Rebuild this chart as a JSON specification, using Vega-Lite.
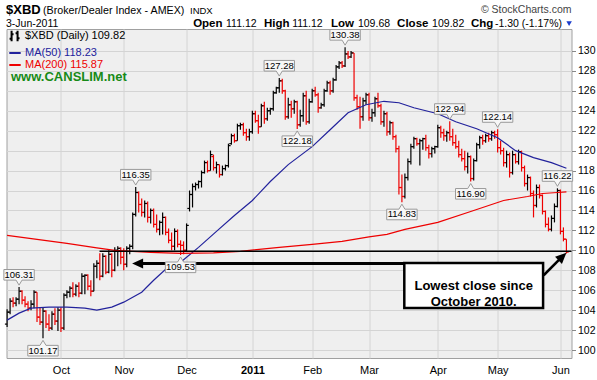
{
  "$schema": "https://vega.github.io/schema/vega-lite/v6.json",
  "width": 565,
  "height": 329,
  "autosize": {"type": "none"},
  "padding": {"left": 6.5, "top": 29, "right": 25.5, "bottom": 22},
  "background": "#ffffff",
  "config": {
    "font": "Liberation Sans",
    "view": {"fill": "#efefef", "stroke": "#a0a0a0", "strokeWidth": 1},
    "axis": {"labelFont": "Liberation Sans", "labelFontSize": 11, "labelColor": "#000000", "gridColor": "#d4d4d4", "gridWidth": 1, "domain": false, "title": null}
  },
  "encoding": {
    "x": {"type": "quantitative",
      "scale": {"domain": [-0.2, 188.7], "nice": false, "zero": false},
      "axis": {"values": [18, 39, 60, 82, 102, 121, 144, 164, 185],
        "labelExpr": "['Oct','Nov','Dec','2011','Feb','Mar','Apr','May','Jun'][indexof([18,39,60,82,102,121,144,164,185], datum.value)]",
        "labelFontWeight": {"condition": {"test": "datum.value == 82", "value": "bold"}, "value": "normal"},
        "ticks": false, "labelPadding": 6, "grid": true, "labelFlush": false, "labelOverlap": false}},
    "y": {"type": "quantitative",
      "scale": {"domain": [99.2, 132.2], "nice": false, "zero": false},
      "axis": {"orient": "right", "values": [100,102,104,106,108,110,112,114,116,118,120,122,124,126,128,130],
        "tickSize": 4, "tickColor": "#888888", "labelPadding": 2, "grid": true, "labelOverlap": false, "labelFontSize": 10.5, "labelFlush": false}}
  },
  "datasets": {
    "bars": [
      {"i":0,"o":102.6,"h":104.1,"l":102.3,"c":103.8},{"i":1,"o":103.8,"h":105.2,"l":103.6,"c":104.9},{"i":2,"o":104.9,"h":105.3,"l":104.3,"c":104.7},{"i":3,"o":104.7,"h":105.3,"l":104.4,"c":105.1},{"i":4,"o":105.1,"h":106.31,"l":104.6,"c":105.9},
      {"i":5,"o":105.9,"h":106.0,"l":104.6,"c":105.0},{"i":6,"o":105.0,"h":105.4,"l":104.3,"c":104.6},{"i":7,"o":104.6,"h":104.9,"l":103.9,"c":104.2},{"i":8,"o":104.2,"h":105.0,"l":104.0,"c":104.6},{"i":9,"o":104.6,"h":106.0,"l":104.2,"c":105.8},
      {"i":10,"o":105.8,"h":105.8,"l":102.8,"c":103.3},{"i":11,"o":103.3,"h":104.3,"l":102.5,"c":102.8},{"i":12,"o":102.8,"h":104.3,"l":101.17,"c":103.9},{"i":13,"o":103.9,"h":104.0,"l":102.2,"c":102.6},{"i":14,"o":102.6,"h":103.6,"l":101.9,"c":102.2},
      {"i":15,"o":102.2,"h":103.9,"l":102.0,"c":103.6},{"i":16,"o":103.6,"h":104.2,"l":102.5,"c":102.9},{"i":17,"o":102.9,"h":104.3,"l":101.9,"c":104.0},{"i":18,"o":104.0,"h":104.3,"l":101.8,"c":102.2},{"i":19,"o":102.2,"h":105.7,"l":102.0,"c":105.5},
      {"i":20,"o":105.5,"h":106.0,"l":105.2,"c":105.8},{"i":21,"o":105.8,"h":106.4,"l":105.3,"c":106.2},{"i":22,"o":106.2,"h":106.8,"l":105.3,"c":105.6},{"i":23,"o":105.6,"h":106.6,"l":105.4,"c":106.4},{"i":24,"o":106.4,"h":106.8,"l":105.3,"c":105.7},
      {"i":25,"o":105.7,"h":107.7,"l":105.6,"c":107.4},{"i":26,"o":107.4,"h":107.6,"l":105.6,"c":107.5},{"i":27,"o":107.5,"h":107.6,"l":106.0,"c":106.4},{"i":28,"o":106.4,"h":107.0,"l":105.4,"c":105.9},{"i":29,"o":105.9,"h":108.7,"l":105.9,"c":108.4},
      {"i":30,"o":108.4,"h":109.0,"l":107.2,"c":108.7},{"i":31,"o":108.7,"h":109.7,"l":107.0,"c":107.4},{"i":32,"o":107.4,"h":109.7,"l":107.3,"c":109.4},{"i":33,"o":109.4,"h":109.5,"l":107.6,"c":107.8},{"i":34,"o":107.8,"h":110.0,"l":107.7,"c":109.6},
      {"i":35,"o":109.6,"h":109.7,"l":107.3,"c":108.0},{"i":36,"o":108.0,"h":110.3,"l":107.9,"c":110.0},{"i":37,"o":110.0,"h":110.4,"l":108.4,"c":110.2},{"i":38,"o":110.2,"h":110.3,"l":108.6,"c":109.3},{"i":39,"o":109.3,"h":110.2,"l":108.0,"c":108.6},
      {"i":40,"o":108.6,"h":110.4,"l":108.3,"c":110.2},{"i":41,"o":110.2,"h":110.6,"l":109.6,"c":110.4},{"i":42,"o":110.4,"h":113.8,"l":110.1,"c":113.6},{"i":43,"o":113.6,"h":116.35,"l":113.4,"c":115.8},{"i":44,"o":115.8,"h":115.9,"l":113.8,"c":114.6},
      {"i":45,"o":114.6,"h":115.2,"l":113.4,"c":113.8},{"i":46,"o":113.8,"h":115.0,"l":113.3,"c":114.7},{"i":47,"o":114.7,"h":114.9,"l":112.8,"c":113.3},{"i":48,"o":113.3,"h":114.2,"l":112.7,"c":114.0},{"i":49,"o":114.0,"h":114.2,"l":112.3,"c":112.6},
      {"i":50,"o":112.6,"h":113.6,"l":111.8,"c":112.1},{"i":51,"o":112.1,"h":113.0,"l":111.5,"c":112.8},{"i":52,"o":112.8,"h":113.8,"l":111.6,"c":113.3},{"i":53,"o":113.3,"h":113.4,"l":111.5,"c":111.8},{"i":54,"o":111.8,"h":112.2,"l":110.7,"c":111.0},
      {"i":55,"o":111.0,"h":111.8,"l":110.0,"c":110.4},{"i":56,"o":110.4,"h":112.2,"l":110.0,"c":111.9},{"i":57,"o":111.9,"h":112.1,"l":110.3,"c":110.6},{"i":58,"o":110.6,"h":111.0,"l":109.53,"c":110.5},{"i":59,"o":110.5,"h":110.9,"l":109.6,"c":110.0},
      {"i":60,"o":110.0,"h":112.7,"l":109.9,"c":112.5},{"i":61,"o":114.2,"h":116.0,"l":113.9,"c":115.6},{"i":62,"o":115.6,"h":116.7,"l":114.3,"c":116.4},{"i":63,"o":116.4,"h":116.8,"l":116.0,"c":116.6},{"i":64,"o":116.6,"h":117.0,"l":116.2,"c":116.9},
      {"i":65,"o":116.9,"h":118.0,"l":116.3,"c":117.8},{"i":66,"o":117.8,"h":119.0,"l":117.7,"c":118.8},{"i":67,"o":118.8,"h":119.0,"l":117.8,"c":118.0},{"i":68,"o":118.0,"h":120.0,"l":118.0,"c":119.6},{"i":69,"o":119.4,"h":119.6,"l":118.0,"c":118.3},
      {"i":70,"o":118.3,"h":118.9,"l":117.7,"c":118.6},{"i":71,"o":118.6,"h":118.6,"l":117.3,"c":117.6},{"i":72,"o":117.6,"h":118.5,"l":117.5,"c":118.2},{"i":73,"o":118.2,"h":118.6,"l":118.0,"c":118.5},{"i":74,"o":118.5,"h":120.7,"l":118.3,"c":120.5},
      {"i":75,"o":120.7,"h":121.7,"l":120.6,"c":121.5},{"i":76,"o":121.5,"h":121.7,"l":120.8,"c":121.0},{"i":77,"o":121.0,"h":122.7,"l":121.0,"c":122.5},{"i":78,"o":122.5,"h":122.8,"l":122.1,"c":122.6},{"i":79,"o":122.6,"h":122.8,"l":121.5,"c":121.8},
      {"i":80,"o":121.8,"h":122.2,"l":121.0,"c":121.4},{"i":81,"o":121.4,"h":122.2,"l":121.0,"c":121.9},{"i":82,"o":121.9,"h":124.0,"l":121.7,"c":123.7},{"i":83,"o":123.7,"h":124.0,"l":122.8,"c":123.0},{"i":84,"o":123.0,"h":123.6,"l":121.7,"c":122.4},
      {"i":85,"o":122.4,"h":124.7,"l":122.4,"c":124.5},{"i":86,"o":124.5,"h":124.9,"l":122.7,"c":123.2},{"i":87,"o":123.2,"h":124.3,"l":123.0,"c":124.0},{"i":88,"o":124.0,"h":124.3,"l":123.6,"c":124.2},{"i":89,"o":124.2,"h":126.0,"l":124.0,"c":125.8},
      {"i":90,"o":125.8,"h":126.4,"l":125.7,"c":126.3},{"i":91,"o":126.3,"h":127.28,"l":125.8,"c":127.0},{"i":92,"o":127.0,"h":127.2,"l":125.7,"c":126.0},{"i":93,"o":126.0,"h":126.1,"l":123.1,"c":123.4},{"i":94,"o":123.4,"h":125.3,"l":123.2,"c":124.6},
      {"i":95,"o":124.6,"h":125.0,"l":123.3,"c":124.2},{"i":96,"o":124.2,"h":125.1,"l":123.7,"c":124.9},{"i":97,"o":124.9,"h":125.0,"l":122.18,"c":122.6},{"i":98,"o":122.6,"h":124.1,"l":122.4,"c":123.5},{"i":99,"o":123.5,"h":125.8,"l":122.9,"c":125.5},
      {"i":100,"o":125.5,"h":126.0,"l":122.6,"c":122.9},{"i":101,"o":122.9,"h":125.2,"l":122.7,"c":124.9},{"i":102,"o":124.9,"h":126.2,"l":124.8,"c":126.0},{"i":103,"o":126.0,"h":126.4,"l":125.4,"c":125.6},{"i":104,"o":125.6,"h":125.8,"l":123.8,"c":124.3},
      {"i":105,"o":124.3,"h":124.8,"l":124.2,"c":124.6},{"i":106,"o":124.6,"h":126.2,"l":124.4,"c":126.0},{"i":107,"o":126.0,"h":127.0,"l":125.9,"c":126.8},{"i":108,"o":126.8,"h":127.0,"l":125.6,"c":126.0},{"i":109,"o":126.0,"h":127.3,"l":125.8,"c":127.1},
      {"i":110,"o":127.1,"h":128.6,"l":127.0,"c":128.4},{"i":111,"o":128.4,"h":129.0,"l":128.2,"c":128.8},{"i":112,"o":128.8,"h":129.0,"l":128.3,"c":128.5},{"i":113,"o":128.5,"h":130.38,"l":128.4,"c":129.7},{"i":114,"o":129.7,"h":130.0,"l":129.2,"c":129.4},
      {"i":115,"o":129.4,"h":130.0,"l":129.3,"c":129.8},{"i":116,"o":129.8,"h":129.8,"l":125.0,"c":125.3},{"i":117,"o":125.3,"h":125.6,"l":124.1,"c":124.4},{"i":118,"o":124.4,"h":125.4,"l":122.2,"c":123.4},{"i":119,"o":123.4,"h":125.3,"l":123.0,"c":125.0},
      {"i":120,"o":125.0,"h":125.8,"l":124.6,"c":125.6},{"i":121,"o":125.6,"h":125.8,"l":123.0,"c":123.3},{"i":122,"o":123.3,"h":124.2,"l":122.9,"c":123.8},{"i":123,"o":123.8,"h":125.4,"l":123.4,"c":125.2},{"i":124,"o":125.2,"h":125.8,"l":124.3,"c":124.5},
      {"i":125,"o":124.5,"h":124.7,"l":122.6,"c":122.9},{"i":126,"o":122.9,"h":124.0,"l":122.4,"c":123.7},{"i":127,"o":123.7,"h":123.9,"l":121.5,"c":121.9},{"i":128,"o":121.9,"h":123.0,"l":121.6,"c":122.8},{"i":129,"o":122.8,"h":122.9,"l":121.1,"c":121.4},
      {"i":130,"o":121.4,"h":121.6,"l":119.8,"c":120.2},{"i":131,"o":120.2,"h":120.5,"l":115.6,"c":116.3},{"i":132,"o":116.3,"h":117.6,"l":114.83,"c":115.4},{"i":133,"o":115.4,"h":117.7,"l":115.2,"c":117.3},{"i":134,"o":117.3,"h":119.2,"l":117.0,"c":118.9},
      {"i":135,"o":118.9,"h":120.7,"l":118.6,"c":120.4},{"i":136,"o":120.4,"h":121.4,"l":120.2,"c":121.2},{"i":137,"o":121.2,"h":121.3,"l":120.5,"c":120.7},{"i":138,"o":120.7,"h":121.2,"l":118.5,"c":121.0},{"i":139,"o":121.0,"h":121.3,"l":120.1,"c":121.2},
      {"i":140,"o":121.2,"h":121.6,"l":120.0,"c":120.3},{"i":141,"o":120.3,"h":120.6,"l":119.2,"c":119.7},{"i":142,"o":119.7,"h":120.4,"l":119.3,"c":120.2},{"i":143,"o":120.2,"h":120.5,"l":119.7,"c":120.4},{"i":144,"o":120.4,"h":122.6,"l":120.3,"c":122.3},
      {"i":145,"o":122.3,"h":122.5,"l":121.3,"c":121.8},{"i":146,"o":121.8,"h":122.2,"l":121.0,"c":121.5},{"i":147,"o":121.5,"h":122.0,"l":120.9,"c":121.8},{"i":148,"o":121.8,"h":122.94,"l":121.0,"c":121.4},{"i":149,"o":121.4,"h":122.2,"l":120.5,"c":120.8},
      {"i":150,"o":120.8,"h":121.6,"l":120.2,"c":120.4},{"i":151,"o":120.4,"h":121.0,"l":119.3,"c":119.6},{"i":152,"o":119.6,"h":120.2,"l":118.9,"c":119.2},{"i":153,"o":119.2,"h":120.0,"l":118.0,"c":118.4},{"i":154,"o":118.4,"h":119.8,"l":117.7,"c":119.4},
      {"i":155,"o":119.4,"h":119.5,"l":116.9,"c":117.2},{"i":156,"o":117.2,"h":119.2,"l":117.0,"c":119.0},{"i":157,"o":119.0,"h":120.8,"l":118.9,"c":120.6},{"i":158,"o":120.6,"h":121.5,"l":120.2,"c":121.3},{"i":159,"o":121.3,"h":121.6,"l":120.6,"c":121.0},
      {"i":160,"o":121.0,"h":121.7,"l":120.8,"c":121.5},{"i":161,"o":121.5,"h":121.8,"l":120.9,"c":121.2},{"i":162,"o":121.2,"h":122.0,"l":121.0,"c":121.8},{"i":163,"o":121.8,"h":122.0,"l":121.2,"c":121.6},{"i":164,"o":121.6,"h":122.14,"l":119.8,"c":120.3},
      {"i":165,"o":120.3,"h":121.0,"l":119.6,"c":120.0},{"i":166,"o":120.0,"h":120.3,"l":118.4,"c":118.8},{"i":167,"o":118.8,"h":120.0,"l":118.3,"c":119.6},{"i":168,"o":119.6,"h":119.8,"l":117.3,"c":117.8},{"i":169,"o":117.8,"h":120.0,"l":117.6,"c":119.6},
      {"i":170,"o":119.6,"h":119.7,"l":118.7,"c":118.9},{"i":171,"o":118.9,"h":120.1,"l":118.6,"c":119.9},{"i":172,"o":119.9,"h":120.0,"l":117.9,"c":118.3},{"i":173,"o":118.3,"h":118.5,"l":116.4,"c":116.7},{"i":174,"o":116.7,"h":117.6,"l":116.0,"c":117.3},
      {"i":175,"o":117.3,"h":117.4,"l":115.4,"c":115.7},{"i":176,"o":115.7,"h":116.0,"l":113.3,"c":114.5},{"i":177,"o":114.5,"h":116.6,"l":114.3,"c":116.3},{"i":178,"o":116.3,"h":116.6,"l":115.2,"c":115.5},{"i":179,"o":115.5,"h":115.6,"l":113.6,"c":113.9},
      {"i":180,"o":113.9,"h":114.0,"l":112.3,"c":112.6},{"i":181,"o":112.6,"h":113.3,"l":111.9,"c":112.1},{"i":182,"o":112.1,"h":113.5,"l":111.9,"c":113.2},{"i":183,"o":113.2,"h":114.7,"l":112.8,"c":114.4},{"i":184,"o":114.4,"h":116.22,"l":114.3,"c":116.0},
      {"i":185,"o":116.0,"h":116.1,"l":111.6,"c":111.9},{"i":186,"o":111.9,"h":112.3,"l":110.9,"c":111.12},{"i":187,"o":111.12,"h":111.12,"l":109.68,"c":109.82}
    ],
    "ma": [
      {"s":"MA(50) 118.23","i":0,"v":103.0},{"s":"MA(50) 118.23","i":4,"v":103.7},{"s":"MA(50) 118.23","i":8,"v":104.2},{"s":"MA(50) 118.23","i":14,"v":104.3},{"s":"MA(50) 118.23","i":20,"v":104.3},
      {"s":"MA(50) 118.23","i":26,"v":104.2},{"s":"MA(50) 118.23","i":30,"v":104.0},{"s":"MA(50) 118.23","i":35,"v":104.3},{"s":"MA(50) 118.23","i":39,"v":104.8},{"s":"MA(50) 118.23","i":42,"v":105.3},
      {"s":"MA(50) 118.23","i":45,"v":105.8},{"s":"MA(50) 118.23","i":49,"v":107.0},{"s":"MA(50) 118.23","i":53,"v":108.1},{"s":"MA(50) 118.23","i":58,"v":108.8},{"s":"MA(50) 118.23","i":64,"v":110.3},
      {"s":"MA(50) 118.23","i":70,"v":111.9},{"s":"MA(50) 118.23","i":76,"v":113.5},{"s":"MA(50) 118.23","i":82,"v":115.0},{"s":"MA(50) 118.23","i":88,"v":116.9},{"s":"MA(50) 118.23","i":94,"v":118.6},
      {"s":"MA(50) 118.23","i":102,"v":120.4},{"s":"MA(50) 118.23","i":108,"v":122.1},{"s":"MA(50) 118.23","i":114,"v":123.8},{"s":"MA(50) 118.23","i":120,"v":124.6},{"s":"MA(50) 118.23","i":126,"v":124.95},
      {"s":"MA(50) 118.23","i":131,"v":124.8},{"s":"MA(50) 118.23","i":136,"v":124.3},{"s":"MA(50) 118.23","i":144,"v":123.7},{"s":"MA(50) 118.23","i":150,"v":122.9},{"s":"MA(50) 118.23","i":157,"v":122.2},
      {"s":"MA(50) 118.23","i":164,"v":121.3},{"s":"MA(50) 118.23","i":170,"v":120.0},{"s":"MA(50) 118.23","i":176,"v":119.3},{"s":"MA(50) 118.23","i":182,"v":118.8},{"s":"MA(50) 118.23","i":187,"v":118.23},
      {"s":"MA(200) 115.87","i":0,"v":111.5},{"s":"MA(200) 115.87","i":10,"v":111.1},{"s":"MA(200) 115.87","i":20,"v":110.7},{"s":"MA(200) 115.87","i":30,"v":110.25},{"s":"MA(200) 115.87","i":36,"v":110.0},
      {"s":"MA(200) 115.87","i":48,"v":109.8},{"s":"MA(200) 115.87","i":58,"v":109.7},{"s":"MA(200) 115.87","i":69,"v":109.75},{"s":"MA(200) 115.87","i":78,"v":109.9},{"s":"MA(200) 115.87","i":91,"v":110.3},
      {"s":"MA(200) 115.87","i":102,"v":110.6},{"s":"MA(200) 115.87","i":112,"v":110.9},{"s":"MA(200) 115.87","i":121,"v":111.35},{"s":"MA(200) 115.87","i":127,"v":111.6},{"s":"MA(200) 115.87","i":133,"v":112.1},
      {"s":"MA(200) 115.87","i":144,"v":112.8},{"s":"MA(200) 115.87","i":155,"v":113.9},{"s":"MA(200) 115.87","i":166,"v":115.0},{"s":"MA(200) 115.87","i":174,"v":115.4},{"s":"MA(200) 115.87","i":179,"v":115.7},
      {"s":"MA(200) 115.87","i":184,"v":115.8},{"s":"MA(200) 115.87","i":187,"v":115.87}
    ],
    "labels": [
      {"i":4,"v":106.31,"k":"high"},{"i":12,"v":101.17,"k":"low"},{"i":43,"v":116.35,"k":"high"},{"i":58,"v":109.53,"k":"low"},
      {"i":91,"v":127.28,"k":"high"},{"i":97,"v":122.18,"k":"low"},{"i":113,"v":130.38,"k":"high"},{"i":132,"v":114.83,"k":"low"},
      {"i":148,"v":122.94,"k":"high"},{"i":155,"v":116.90,"k":"low"},{"i":164,"v":122.14,"k":"high"},{"i":184,"v":116.22,"k":"high"}
    ]
  },
  "layer": [
    {
      "data": {"name": "bars"},
      "transform": [{"window": [{"op": "lag", "field": "c", "as": "pc"}]}],
      "layer": [
        {
          "mark": {"type": "rule", "strokeWidth": 1.2},
          "encoding": {
            "x": {"field": "i", "type": "quantitative"},
            "y": {"field": "l", "type": "quantitative"},
            "y2": {"field": "h"},
            "color": {"condition": {"test": "datum.pc != null && datum.c < datum.pc", "value": "#ee0000"}, "value": "#000000"}
          }
        },
        {
          "mark": {"type": "rule", "strokeWidth": 1.2, "xOffset": -2.2},
          "encoding": {
            "x": {"field": "i", "type": "quantitative"},
            "x2": {"field": "i"},
            "y": {"field": "o", "type": "quantitative"},
            "color": {"condition": {"test": "datum.pc != null && datum.c < datum.pc", "value": "#ee0000"}, "value": "#000000"}
          }
        },
        {
          "mark": {"type": "rule", "strokeWidth": 1.2, "x2Offset": 2.2},
          "encoding": {
            "x": {"field": "i", "type": "quantitative"},
            "x2": {"field": "i"},
            "y": {"field": "c", "type": "quantitative"},
            "color": {"condition": {"test": "datum.pc != null && datum.c < datum.pc", "value": "#ee0000"}, "value": "#000000"}
          }
        }
      ]
    },
    {
      "data": {"name": "ma"},
      "mark": {"type": "line", "strokeWidth": 1.2},
      "encoding": {
        "x": {"field": "i", "type": "quantitative"},
        "y": {"field": "v", "type": "quantitative"},
        "color": {"field": "s", "type": "nominal",
          "scale": {"domain": ["$XBD (Daily) 109.82", "MA(50) 118.23", "MA(200) 115.87", "www.CANSLIM.net"], "range": ["#000000", "#22229c", "#ee0000", "#178a17"]},
          "legend": {"orient": "none", "legendX": 1.5, "legendY": 0, "title": null, "symbolType": "stroke", "symbolSize": 130, "symbolStrokeWidth": 2,
            "labelFont": "Liberation Sans", "labelFontSize": 11, "labelOffset": 3, "rowPadding": 0, "padding": 0, "labelLimit": 0,
            "encode": {
              "labels": {"update": {
                "fill": {"signal": "scale('color', datum.value)"},
                "fontWeight": {"signal": "datum.value == 'www.CANSLIM.net' ? 'bold' : 'normal'"},
                "fontSize": {"signal": "datum.value == 'www.CANSLIM.net' ? 13 : 11"},
                "dx": {"signal": "datum.value == 'www.CANSLIM.net' ? -14 : 0"}
              }},
              "symbols": {"update": {
                "opacity": {"signal": "datum.value == 'www.CANSLIM.net' ? 0 : 1"},
                "shape": {"signal": "datum.value == '$XBD (Daily) 109.82' ? 'M-0.6,-0.9L-0.6,0.9M-0.95,0.5L-0.6,0.5M-0.6,-0.3L-0.25,-0.3M0.45,-0.9L0.45,0.9M0.1,-0.5L0.45,-0.5M0.45,0.4L0.8,0.4' : 'stroke'"}
              }}
            }}
        }
      }
    },
    {
      "data": {"values": [{}]},
      "mark": {"type": "rule", "color": "#000000", "strokeWidth": 1.5},
      "encoding": {"x": {"datum": 30.9}, "x2": {"datum": 188.7}, "y": {"datum": 109.9}}
    },
    {
      "data": {"values": [{}]},
      "mark": {"type": "rule", "color": "#000000", "strokeWidth": 3},
      "encoding": {"x": {"datum": 43.5}, "x2": {"datum": 132.8}, "y": {"datum": 108.68}}
    },
    {
      "data": {"values": [{}]},
      "mark": {"type": "point", "shape": "M0,0L1,-0.45L1,0.45Z", "size": 484, "filled": true, "color": "#000000", "opacity": 1},
      "encoding": {"x": {"datum": 41.8}, "y": {"datum": 108.68}}
    },
    {
      "data": {"values": [{}]},
      "mark": {"type": "rect", "fill": "#ffffff", "stroke": "#000000", "strokeWidth": 2.5},
      "encoding": {"x": {"datum": 132.8}, "x2": {"datum": 179.2}, "y": {"datum": 108.73}, "y2": {"datum": 104.21}}
    },
    {
      "data": {"values": [{}]},
      "mark": {"type": "text", "font": "Liberation Sans", "fontSize": 13, "fontWeight": "bold", "align": "center", "baseline": "middle", "lineHeight": 16, "color": "#000000"},
      "encoding": {"x": {"datum": 156.0}, "y": {"datum": 106.47}, "text": {"value": ["Lowest close since", "October 2010."]}}
    },
    {
      "data": {"values": [{}]},
      "mark": {"type": "rule", "color": "#000000", "strokeWidth": 2.5},
      "encoding": {"x": {"datum": 179.4}, "y": {"datum": 107.5}, "x2": {"datum": 184.6}, "y2": {"datum": 109.07}}
    },
    {
      "data": {"values": [{}]},
      "mark": {"type": "point", "shape": "M0,0L-1,-0.45L-1,0.45Z", "size": 484, "filled": true, "color": "#000000", "opacity": 1, "angle": 316},
      "encoding": {"x": {"datum": 187.0}, "y": {"datum": 109.76}}
    },
    {
      "data": {"name": "labels"},
      "transform": [{"filter": "datum.k == 'high'"}],
      "layer": [
        {
          "mark": {"type": "point", "shape": "M-0.76,-0.88L0.76,-0.88L0.76,-0.35L0.15,-0.35L0,-0.1L-0.15,-0.35L-0.76,-0.35Z", "size": 1600, "filled": true, "fill": "#f7f7f7", "stroke": "#9a9a9a", "strokeWidth": 1, "opacity": 1},
          "encoding": {"x": {"field": "i", "type": "quantitative"}, "y": {"field": "v", "type": "quantitative"}}
        },
        {
          "mark": {"type": "text", "font": "Liberation Sans", "fontSize": 9.5, "color": "#000000", "baseline": "middle", "align": "center", "dy": -12.3},
          "encoding": {"x": {"field": "i", "type": "quantitative"}, "y": {"field": "v", "type": "quantitative"}, "text": {"field": "v", "type": "quantitative", "format": ".2f"}}
        }
      ]
    },
    {
      "data": {"name": "labels"},
      "transform": [{"filter": "datum.k == 'low'"}],
      "layer": [
        {
          "mark": {"type": "point", "shape": "M-0.76,0.88L0.76,0.88L0.76,0.35L0.15,0.35L0,0.1L-0.15,0.35L-0.76,0.35Z", "size": 1600, "filled": true, "fill": "#f7f7f7", "stroke": "#9a9a9a", "strokeWidth": 1, "opacity": 1},
          "encoding": {"x": {"field": "i", "type": "quantitative"}, "y": {"field": "v", "type": "quantitative"}}
        },
        {
          "mark": {"type": "text", "font": "Liberation Sans", "fontSize": 9.5, "color": "#000000", "baseline": "middle", "align": "center", "dy": 12.3},
          "encoding": {"x": {"field": "i", "type": "quantitative"}, "y": {"field": "v", "type": "quantitative"}, "text": {"field": "v", "type": "quantitative", "format": ".2f"}}
        }
      ]
    },
    {
      "data": {"values": [{}]},
      "layer": [
        {"mark": {"type": "text", "font": "Liberation Sans", "fontSize": 13, "fontWeight": "bold", "align": "left", "baseline": "alphabetic", "color": "#000000"},
         "encoding": {"x": {"datum": -0.37}, "y": {"datum": 133.7}, "text": {"value": "$XBD"}}},
        {"mark": {"type": "text", "font": "Liberation Sans", "fontSize": 10.7, "align": "left", "baseline": "alphabetic", "color": "#000000"},
         "encoding": {"x": {"datum": 12.0}, "y": {"datum": 133.7}, "text": {"value": "(Broker/Dealer Index - AMEX)"}}},
        {"mark": {"type": "text", "font": "Liberation Sans", "fontSize": 9.5, "align": "left", "baseline": "alphabetic", "color": "#000000"},
         "encoding": {"x": {"datum": 61.15}, "y": {"datum": 133.7}, "text": {"value": "INDX"}}},
        {"mark": {"type": "text", "font": "Liberation Sans", "fontSize": 10.5, "align": "right", "baseline": "alphabetic", "color": "#444444"},
         "encoding": {"x": {"datum": 188.7}, "y": {"datum": 133.85}, "text": {"value": "© StockCharts.com"}}},
        {"mark": {"type": "text", "font": "Liberation Sans", "fontSize": 10.5, "align": "left", "baseline": "alphabetic", "color": "#000000"},
         "encoding": {"x": {"datum": -0.37}, "y": {"datum": 132.4}, "text": {"value": "3-Jun-2011"}}},
        {"mark": {"type": "text", "font": "Liberation Sans", "fontSize": 11.5, "fontWeight": "bold", "align": "left", "baseline": "alphabetic", "color": "#000000"},
         "encoding": {"x": {"datum": 62.2}, "y": {"datum": 132.4}, "text": {"value": "Open"}}},
        {"mark": {"type": "text", "font": "Liberation Sans", "fontSize": 10.5, "align": "left", "baseline": "alphabetic", "color": "#000000"},
         "encoding": {"x": {"datum": 73.2}, "y": {"datum": 132.4}, "text": {"value": "111.12"}}},
        {"mark": {"type": "text", "font": "Liberation Sans", "fontSize": 11.5, "fontWeight": "bold", "align": "left", "baseline": "alphabetic", "color": "#000000"},
         "encoding": {"x": {"datum": 85.9}, "y": {"datum": 132.4}, "text": {"value": "High"}}},
        {"mark": {"type": "text", "font": "Liberation Sans", "fontSize": 10.5, "align": "left", "baseline": "alphabetic", "color": "#000000"},
         "encoding": {"x": {"datum": 95.3}, "y": {"datum": 132.4}, "text": {"value": "111.12"}}},
        {"mark": {"type": "text", "font": "Liberation Sans", "fontSize": 11.5, "fontWeight": "bold", "align": "left", "baseline": "alphabetic", "color": "#000000"},
         "encoding": {"x": {"datum": 108.3}, "y": {"datum": 132.4}, "text": {"value": "Low"}}},
        {"mark": {"type": "text", "font": "Liberation Sans", "fontSize": 10.5, "align": "left", "baseline": "alphabetic", "color": "#000000"},
         "encoding": {"x": {"datum": 117.3}, "y": {"datum": 132.4}, "text": {"value": "109.68"}}},
        {"mark": {"type": "text", "font": "Liberation Sans", "fontSize": 11.5, "fontWeight": "bold", "align": "left", "baseline": "alphabetic", "color": "#000000"},
         "encoding": {"x": {"datum": 130.4}, "y": {"datum": 132.4}, "text": {"value": "Close"}}},
        {"mark": {"type": "text", "font": "Liberation Sans", "fontSize": 10.5, "align": "left", "baseline": "alphabetic", "color": "#000000"},
         "encoding": {"x": {"datum": 142.1}, "y": {"datum": 132.4}, "text": {"value": "109.82"}}},
        {"mark": {"type": "text", "font": "Liberation Sans", "fontSize": 11.5, "fontWeight": "bold", "align": "left", "baseline": "alphabetic", "color": "#000000"},
         "encoding": {"x": {"datum": 155.1}, "y": {"datum": 132.4}, "text": {"value": "Chg"}}},
        {"mark": {"type": "text", "font": "Liberation Sans", "fontSize": 10.5, "align": "left", "baseline": "alphabetic", "color": "#000000"},
         "encoding": {"x": {"datum": 163.1}, "y": {"datum": 132.4}, "text": {"value": "-1.30 (-1.17%)"}}},
        {"mark": {"type": "point", "shape": "triangle-down", "size": 30, "filled": true, "color": "#1a3ccc", "opacity": 1},
         "encoding": {"x": {"datum": 187.9}, "y": {"datum": 132.75}}}
      ]
    }
  ]
}
